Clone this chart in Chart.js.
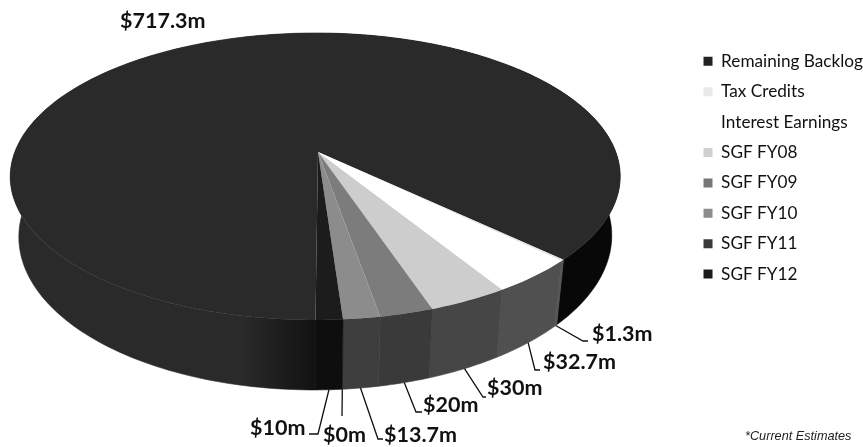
<!DOCTYPE html>
<html>
<head>
<meta charset="utf-8">
<style>
html, body { margin: 0; padding: 0; background: #fff; }
#wrap { position: relative; width: 863px; height: 447px; }
#note { position: absolute; left: 745px; top: 429px; font: italic 12.7px "Liberation Sans", sans-serif; color: #222; }
</style>
<script src="https://cdn.jsdelivr.net/npm/chart.js@4"></script>
</head>
<body>
<div id="wrap">
  <canvas id="chart" width="863" height="447"></canvas>
  <div id="note">*Current Estimates</div>
</div>
<script>
const categories = ['Remaining Backlog', 'Tax Credits', 'Interest Earnings', 'SGF FY08', 'SGF FY09', 'SGF FY10', 'SGF FY11', 'SGF FY12'];
const amounts = [717.3, 1.3, 32.7, 30, 20, 13.7, 0, 10];
const amountLabels = ['$717.3m', '$1.3m', '$32.7m', '$30m', '$20m', '$13.7m', '$0m', '$10m'];
const topColors = ['#2a2a2a', '#e6e6e6', '#ffffff', '#cdcdcd', '#7c7c7c', '#8c8c8c', '#1c1c1c', '#1c1c1c'];
const sideColors = ['#080808', '#555555', '#505050', '#464646', '#3a3a3a', '#3e3e3e', '#0e0e0e', '#0e0e0e'];
const legendColors = ['#222222', '#e8e8e8', '#ffffff', '#d0d0d0', '#777777', '#8c8c8c', '#3a3a3a', '#1c1c1c'];

// leader elbows and text spots for the labels, same order as amounts
const labelSpots = [
  { text: [120, 21] },
  { elbow: [583, 341], end: [588, 341], text: [592, 334] },
  { elbow: [535, 370], end: [540, 370], text: [543, 362] },
  { elbow: [483, 397], end: [486, 397], text: [487, 388] },
  { elbow: [416, 412], end: [422, 412], text: [423, 405] },
  { elbow: [378, 439], end: [383, 439], text: [384, 435] },
  { elbow: [342, 416], end: [342, 416], text: [323, 435] },
  { elbow: [318, 434], end: [309, 434], text: [250, 428] }
];

// fake the tilted 3D look: unit disc -> screen, with a little perspective
const apexX = 318, apexY = 152, spreadX = 300.5, spreadY = 139.3, tiltK = 0.1707, tiltM = 0.009;
const wallDepth = 58, wallShrink = 0.972;

function project(angle, r, drop) {
  const u = Math.cos(angle) * r, v = Math.sin(angle) * r;
  const w = 1 - tiltK * v + tiltM * u;
  const squeeze = drop ? wallShrink : 1;
  return [apexX + squeeze * spreadX * u / w, apexY + (spreadY * v + (drop || 0)) / w];
}

function arcSteps(arc) {
  const n = Math.max(2, Math.ceil((arc.endAngle - arc.startAngle) / 0.02));
  const out = [];
  for (let i = 0; i <= n; i++) out.push(arc.startAngle + (arc.endAngle - arc.startAngle) * i / n);
  return out;
}

const tiltedPie = {
  id: 'tiltedPie',
  beforeDatasetDraw(chart) {
    const ctx = chart.ctx;
    const arcs = chart.getDatasetMeta(0).data;
    // backlog wall melts into the top on the left and goes black near the front
    const backlogWall = ctx.createLinearGradient(0, 0, 345, 0);
    backlogWall.addColorStop(0, topColors[0]);
    backlogWall.addColorStop(0.7, topColors[0]);
    backlogWall.addColorStop(1, sideColors[0]);
    // walls first, the top face covers whatever is behind it
    arcs.forEach((arc, i) => {
      if (arc.endAngle <= arc.startAngle) return;
      const steps = arcSteps(arc);
      ctx.beginPath();
      steps.forEach((a, k) => { const p = project(a, 1, 0); k ? ctx.lineTo(p[0], p[1]) : ctx.moveTo(p[0], p[1]); });
      steps.slice().reverse().forEach(a => { const p = project(a, 1, wallDepth); ctx.lineTo(p[0], p[1]); });
      ctx.closePath();
      ctx.fillStyle = i === 0 ? backlogWall : sideColors[i];
      ctx.strokeStyle = i === 0 ? backlogWall : sideColors[i];
      ctx.lineWidth = 0.6;
      ctx.fill();
      ctx.stroke();
    });
    arcs.forEach((arc, i) => {
      if (arc.endAngle <= arc.startAngle) return;
      ctx.beginPath();
      ctx.moveTo(apexX, apexY);
      arcSteps(arc).forEach(a => { const p = project(a, 1, 0); ctx.lineTo(p[0], p[1]); });
      ctx.closePath();
      ctx.fillStyle = topColors[i];
      ctx.fill();
    });
    // labels and their elbow lines
    ctx.strokeStyle = '#111';
    ctx.lineWidth = 1.3;
    ctx.fillStyle = '#111';
    ctx.font = '700 21.5px Lato, sans-serif';
    ctx.textBaseline = 'middle';
    arcs.forEach((arc, i) => {
      const spot = labelSpots[i];
      if (spot.elbow) {
        const mid = (arc.startAngle + arc.endAngle) / 2;
        const p = project(mid, 1, wallDepth);
        ctx.beginPath();
        ctx.moveTo(p[0], p[1]);
        ctx.lineTo(spot.elbow[0], spot.elbow[1]);
        ctx.lineTo(spot.end[0], spot.end[1]);
        ctx.stroke();
      }
      ctx.fillText(amountLabels[i], spot.text[0], spot.text[1]);
    });
    return false;
  }
};

new Chart(document.getElementById('chart'), {
  type: 'pie',
  data: {
    labels: categories,
    datasets: [{ data: amounts, backgroundColor: legendColors, borderWidth: 0 }]
  },
  options: {
    responsive: false,
    animation: false,
    rotation: 180.4,
    layout: { padding: { top: 39.5, right: -10 } },
    plugins: {
      tooltip: { enabled: false },
      legend: {
        position: 'right',
        align: 'start',
        labels: {
          boxWidth: 9,
          boxHeight: 9,
          padding: 13.2,
          color: '#111',
          font: { family: 'Lato, sans-serif', size: 17.2 }
        }
      }
    }
  },
  plugins: [tiltedPie]
});
</script>
</body>
</html>
